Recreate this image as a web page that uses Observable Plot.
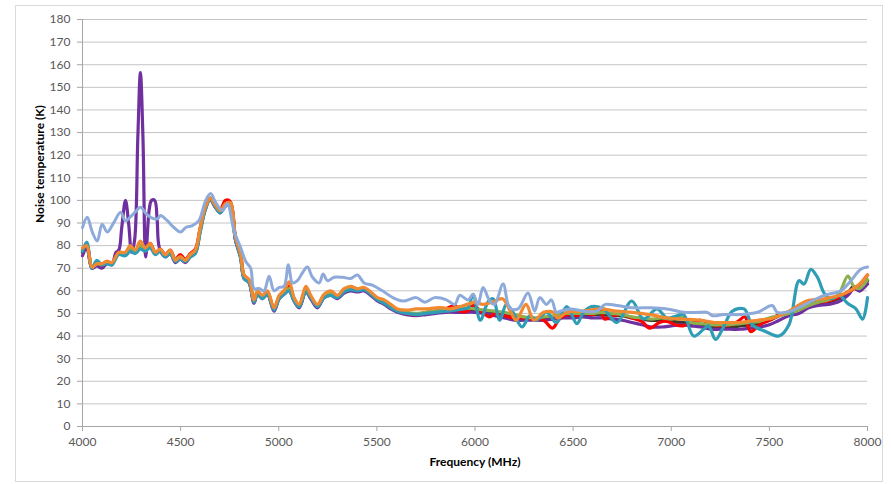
<!DOCTYPE html>
<html>
<head>
<meta charset="utf-8">
<script src="https://cdn.jsdelivr.net/npm/d3@7"></script>
<script src="https://cdn.jsdelivr.net/npm/@observablehq/plot@0.6"></script>
<style>
  html, body { margin: 0; padding: 0; background: #fff; overflow: hidden; }
  #wrap { position: relative; width: 891px; height: 484px; }
  #border { position: absolute; left: 15px; top: 5px; width: 868px; height: 477px; border: 1px solid #D9D9D9; box-sizing: border-box; pointer-events: none; }
  #chart { position: absolute; left: 0; top: 0; }
</style>
</head>
<body>
<div id="wrap"><div id="chart"></div><div id="border"></div></div>
<script>
// ---- tick labels ----
const xTicks = [4000, 4500, 5000, 5500, 6000, 6500, 7000, 7500, 8000];
const yTicks = [0, 10, 20, 30, 40, 50, 60, 70, 80, 90, 100, 110, 120, 130, 140, 150, 160, 170, 180];
const xTitle = "Frequency (MHz)";
const yTitle = "Noise temperature (K)";

// ---- shared frequency grid (MHz) ----
const freqA = [4000,4022,4048,4073,4099,4124,4150,4184,4218,4243,4269,4294,4320,4345,4371,4396,4422,4447,4473,4498,4524,4549,4575,4600,4626,4651,4677,4702,4728,4753,4779,4806,4823,4849,4874,4891,4917,4942,4976,5002,5027,5053,5078,5104,5138,5163,5197,5231,5265,5299,5333,5367,5401,5435,5469,5503,5537,5571,5605,
  5650,5700,5750,5800,5850,5900,5950,6000,6050,6100,6150,6200,6250,6300,6350,6400,6450,6500,6550,6600,6650,6700,6750,6800,6850,6900,6950,7000,7050,7100,7150,7200,7250,7300,7350,7400,7450,7500,7550,7600,7650,7700,7750,7800,7850,7900,7930,7960,8000];

// ---- dark series ----
const darkTemp = [77,80,70,72.5,71,72.5,72,76.5,76,78,77,79,78,80,76.5,78,75.5,77,73,74.5,73,75.5,77,87,96.5,101,97.5,95,98,98.5,83,75,66,64,55,59,57,59,51.5,57,59,60.5,56,53,60,57,53,57.5,58.5,57,59.5,60.5,60,60.5,58.5,56,54.5,52.5,51,
  50,49.5,50,50.5,51,51,51,51,50.5,50.5,49.5,48,47.5,47.5,47.5,48,49,49,49.5,49.5,49.5,49,49,48,47.5,47,47,46.5,46,45.5,45,44,44,44,44.5,45,45.5,47,49,50.5,52.5,53.5,54.5,55,56.5,59,62,60,64.5];

// ---- green series (same grid) ----
const greenTemp = [78,80.5,70.5,72,71.5,72.5,72,76.5,76.5,79,77.5,80,78.5,80.5,77,78,76,77.5,74,75,73.5,76,77.5,87.5,96.5,100.5,97.5,95,98.5,99,83.5,75.5,66.5,64.5,55.5,59.5,57.5,59.5,52,57.5,59.5,61,56.5,53.5,60.5,57.5,53.5,58,59,57.5,60,61,60.5,61,59,56.5,55,53,51.5,
  50.5,50,50.5,51,51.5,52,52.5,52,51.5,51,50.5,49.5,48.5,48,48.5,49,50,50,50,50,50.5,50,49.5,48.5,48,47.5,48,47.5,48.5,46,45.5,45,45,45,45.5,46,46.5,48,49,50,51.5,53.5,55,56,58,66.5,62,61,65];

// ---- purple series ----
const purpleFreq = [4000,4022,4048,4073,4099,4124,4150,4170,4185,4200,4219,4236,4250,4265,4282,4295,4308,4322,4340,4352,4368,4380,4392,4422,4447,4473,4498,4524,4549,4575,4600,4626,4651,4677,4702,4728,4753,4779,4806,4823,4849,4874,4891,4917,4942,4976,5002,5027,5053,5078,5104,5138,5163,5197,5231,5265,5299,5333,5367,5401,5435,5469,5503,5537,5571,5605,
  5650,5700,5750,5800,5850,5900,5950,6000,6050,6100,6150,6200,6250,6300,6350,6400,6450,6500,6550,6600,6650,6700,6750,6800,6850,6900,6950,7000,7050,7100,7150,7200,7250,7300,7350,7400,7450,7500,7550,7600,7650,7700,7750,7800,7850,7900,7930,7960,8000];
const purpleTemp = [75.5,79,70,71,70,72,71.5,77,78,88,100,89,77,82,128,156.5,128,75,96,100,100,92,79,75,76.5,72.5,74,72.5,75,77,87,96,100.5,97,94.5,97.5,98,82.5,74.5,65.5,63.5,54.5,58.5,56.5,58.5,51,56.5,58.5,60,55.5,52.5,59.5,56.5,52.5,57,58,56.5,59,60,59.5,60,58,55.5,54,52,50.5,
  49.5,49,49.5,50,50.5,50.5,50.5,50.5,50,49,48,47,47,47,47,47.5,48,48,48.5,48,48,47.5,47,46,45,44,44,44.5,45,44.5,44,43,43,43,43,43.5,44,45,47,49,50,52.5,53.5,54,55,58,61,60,63];

// ---- red series ----
const redFreq = [4000,4022,4048,4073,4099,4124,4150,4184,4218,4243,4269,4294,4320,4345,4371,4396,4422,4447,4473,4498,4524,4549,4575,4600,4626,4651,4677,4702,4728,4753,4779,4806,4823,4849,4874,4891,4917,4942,4976,5002,5027,5053,5078,5104,5138,5163,5197,5231,5265,5299,5333,5367,5401,5435,5469,5503,5537,5571,5605,
  5650,5700,5750,5800,5850,5900,5922,5960,5990,6030,6075,6110,6150,6200,6250,6300,6350,6395,6430,6470,6520,6560,6600,6640,6660,6700,6750,6800,6850,6890,6940,6980,7020,7060,7100,7150,7200,7250,7300,7340,7375,7405,7450,7500,7550,7600,7650,7700,7750,7800,7850,7900,7950,8000];
const redTemp = [78,80,70.5,72,71.5,73,72,77,76.5,78.5,77.5,80,78.5,81,77,78.5,76,78,74,76,74,76.5,78.5,88,97,100.5,97,96,100,99.5,84,76,67,64.5,55.5,59.5,57.5,59.5,52,57.5,60,62,56.5,53.5,61,57.5,53.5,58,59,57.5,60,61,60.5,61,59,56.5,55,53,51.5,
  50,49.5,50.5,51,52,53.5,51,51,53.5,51,48.5,50.5,49,48,48,47.5,47,43.5,47.5,49.5,49,50,49.5,51.5,47.5,49,49.5,48,46.5,43.5,46,46.5,45,44.5,46,47,45.5,44.5,45,46.5,48.5,42,45,47,49.5,50.5,53,54,55,55.5,57,59.5,62,67];

// ---- teal series ----
const tealFreq = [4000,4022,4048,4073,4099,4124,4150,4184,4218,4243,4269,4294,4320,4345,4371,4396,4422,4447,4473,4498,4524,4549,4575,4600,4626,4651,4677,4702,4728,4753,4779,4806,4823,4849,4874,4891,4917,4942,4976,5002,5027,5053,5078,5104,5138,5163,5197,5231,5265,5299,5333,5367,5401,5435,5469,5503,5537,5571,5605,
  5650,5700,5750,5800,5850,5900,5940,5965,5990,6027,6066,6092,6126,6160,6194,6240,6279,6313,6364,6415,6468,6519,6553,6595,6655,6723,6799,6859,6927,6978,7029,7063,7114,7165,7190,7226,7269,7311,7371,7413,7481,7549,7600,7651,7677,7711,7745,7779,7813,7856,7898,7941,7975,8000];
const tealTemp = [77.5,81.5,70,73.5,71.5,72,71.5,76,75.5,77.5,76.5,78.5,77.5,79,76,77.5,75,76.5,73,74,73,75,76.5,86,96,100.5,97,94.5,97.5,98,83,74.5,65.5,63.5,55,58.5,56.5,58.5,51.5,56.5,58.5,60,55.5,53,59.5,57,53,57,58,57,59.5,60.5,60,60.5,58.5,56,54.5,52.5,51,
  50,49.5,50,50.5,51,51.5,52,52.5,58.5,47,55,56.5,47,54,50.5,44,49,47,50.5,46,53,45.5,50.5,53,52,46,55.5,47.5,52,48,49,49.5,40,43,44.5,38.5,44.5,51,52,45,42,40,45,64.5,63,69.5,66,59,56.5,58,54.5,52,47.5,57];

// ---- orange series ----
const orangeFreq = [4000,4022,4048,4073,4099,4124,4150,4184,4218,4243,4269,4294,4320,4345,4371,4396,4422,4447,4473,4498,4524,4549,4575,4600,4626,4651,4677,4702,4728,4753,4779,4806,4823,4849,4874,4891,4917,4942,4976,5002,5027,5053,5078,5104,5138,5163,5197,5231,5265,5299,5333,5367,5401,5435,5469,5503,5537,5571,5605,
  5650,5700,5750,5800,5840,5870,5920,5960,6000,6040,6090,6140,6180,6210,6260,6300,6350,6400,6420,6470,6550,6640,6720,6800,6890,6980,7060,7150,7220,7270,7350,7440,7520,7600,7690,7780,7860,7910,7960,8000];
const orangeTemp = [79,80,70.5,72,72,73,72.5,77,77,80,78,82,79,81,77,78.5,76,78,73.5,75,73.5,76,78,88,97,101,98,95.5,98.5,99,84,76,67,65,56,60,58,60,52.5,58,60,64,57,54,62,58,54,58.5,60,58,61,62,61,61.5,59.5,57,56,54,52,
  51.5,52,52,52.5,52.5,52,53,54,55,54,55,56.5,51,47,54,47,50.5,50.5,48,50.5,51,52,51,50.5,49.5,48,47.5,47,46,46,46,47,48,51,55.5,56.5,58,60,63,67];

// ---- lavender series ----
const lavFreq = [4000,4024,4050,4075,4100,4126,4160,4194,4219,4245,4270,4296,4325,4347,4381,4398,4432,4466,4500,4526,4560,4593,4628,4653,4679,4713,4738,4772,4806,4832,4857,4874,4900,4925,4951,4976,5002,5027,5049,5070,5095,5121,5146,5172,5206,5226,5248,5282,5325,5367,5401,5435,5477,5528,5582,5633,5701,5744,5795,5854,5897,5922,5965,5990,6015,6041,6075,6100,6143,6177,6219,6270,6304,6330,6364,6389,6415,6434,6485,6553,6621,6664,6723,6808,6893,6978,7063,7148,7184,7210,7269,7354,7439,7515,7540,7609,7694,7779,7864,7915,7966,8000];
const lavTemp = [88,92.5,86,82,89.5,86,90.3,94.7,91,92.8,95,97,94,92.5,91.8,93.3,91,88,86,88,88.8,91,100,103,99,95.5,98.4,86.6,79,73,70,61,61,60,66.5,60,61.5,62,71.5,63.5,64.5,68,70.5,66,63.5,67.5,64.5,66,66,65.5,67,63.5,62.5,60,57,55.5,57,55,57,56,54,58,56,58.5,54,61.5,55.5,54,63,52.5,52,59,51,57,54,56,50.5,51,52,51,51,54,53.5,52.5,52.5,52,50.5,50.5,50.5,49,49.5,49.5,50.5,53.5,50.5,51,54.5,58,60,64.5,69.5,70.5];

function pts(freqs, temps) {
  const n = Math.min(freqs.length, temps.length);
  const out = [];
  for (let i = 0; i < n; i++) out.push({f: freqs[i], t: temps[i]});
  return out;
}

const seriesList = [
  {data: pts(freqA, darkTemp), color: "#3c3a2a", w: 3.3},
  {data: pts(purpleFreq, purpleTemp), color: "#7030A0", w: 3.2},
  {data: pts(redFreq, redTemp), color: "#FF0000", w: 3.2},
  {data: pts(freqA, greenTemp), color: "#8DB04E", w: 3.2},
  {data: pts(tealFreq, tealTemp), color: "#2F9DB5", w: 3.2},
  {data: pts(orangeFreq, orangeTemp), color: "#F0892F", w: 3.2},
  {data: pts(lavFreq, lavTemp), color: "#8EAADB", w: 3}
];

const axisGrey = "#A6A6A6";
const labelGrey = "#595959";

const plot = Plot.plot({
  width: 891,
  height: 484,
  marginLeft: 82,
  marginRight: 24,
  marginTop: 19,
  marginBottom: 58,
  style: {fontFamily: "Lato, 'Open Sans', sans-serif", fontSize: "12px", background: "white", color: labelGrey},
  x: {domain: [4000, 8000]},
  y: {domain: [0, 180]},
  marks: [
    Plot.gridY(yTicks.filter(d => d > 0), {stroke: "#C4C4C4", strokeOpacity: 1, strokeWidth: 1}),
    Plot.ruleX([4000], {stroke: axisGrey}),
    Plot.ruleY([0], {stroke: axisGrey}),
    Plot.axisY(yTicks, {tickSize: 5, tickPadding: 7, label: null, stroke: axisGrey, fill: labelGrey}),
    Plot.axisX(xTicks, {tickSize: 5, tickPadding: 6, label: null, tickFormat: d => String(d), stroke: axisGrey, fill: labelGrey}),
    ...seriesList.map(s => Plot.line(s.data, {
      x: "f", y: "t", stroke: s.color, strokeWidth: s.w,
      curve: "catmull-rom", strokeLinejoin: "round", strokeLinecap: "round"
    })),
    Plot.text([xTitle], {frameAnchor: "bottom", dy: 36, text: d => d, fontWeight: "bold", fontSize: 12, fill: "#000", lineAnchor: "middle"}),
    Plot.text([yTitle], {frameAnchor: "left", dx: -42, rotate: -90, text: d => d, fontWeight: "bold", fontSize: 12, fill: "#000", lineAnchor: "middle"})
  ]
});
document.getElementById("chart").appendChild(plot);
</script>
</body>
</html>
